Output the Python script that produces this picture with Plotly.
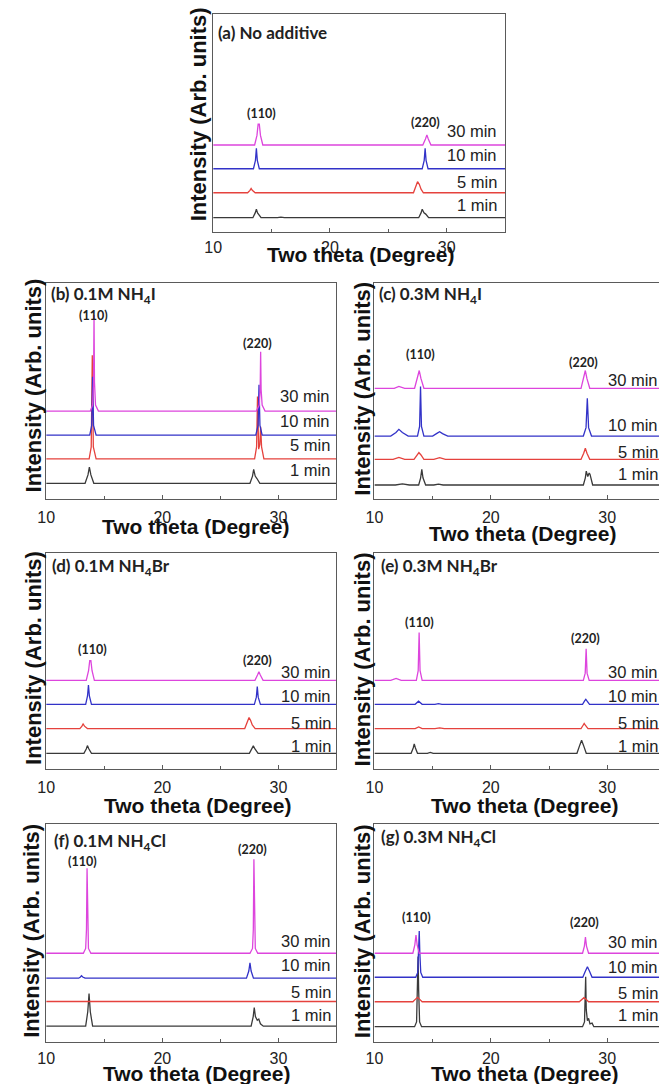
import plotly.graph_objects as go

W, H = 659, 1084

TIMES = ["1 min", "5 min", "10 min", "30 min"]
COLORS = ["#3a3a3a", "#e5423d", "#3232c8", "#dd45dd"]

# ---- panel (a) No additive ----
A1_X = [10, 11.2, 11.5, 11.8, 13.4, 13.6, 13.7, 13.8, 14.1, 15.5, 15.8, 16.1, 27.6, 27.8, 27.9, 28.05, 28.2, 28.45, 35]
A1_Y = [0, 0, 0.03, 0, 0, 0.2, 0.35, 0.2, 0, 0, 0.02, 0, 0, 0.2, 0.35, 0.2, 0.15, 0, 0]
A5_X = [10, 12.95, 13.15, 13.25, 13.35, 13.6, 27.15, 27.38, 27.5, 27.65, 27.8, 28.0, 35]
A5_Y = [0, 0, 0.1, 0.18, 0.1, 0, 0, 0.3, 0.46, 0.35, 0.15, 0, 0]
A10_X = [10, 13.45, 13.62, 13.7, 13.78, 13.95, 27.9, 28.07, 28.15, 28.23, 28.4, 35]
A10_Y = [0, 0, 0.35, 0.85, 0.35, 0, 0, 0.35, 0.85, 0.35, 0, 0]
A30_X = [10, 13.55, 13.75, 13.85, 13.95, 14.05, 14.25, 27.95, 28.18, 28.3, 28.42, 28.65, 35]
A30_Y = [0, 0, 0.4, 0.87, 0.87, 0.4, 0, 0, 0.25, 0.42, 0.25, 0, 0]

# ---- panel (b) 0.1M NH4I ----
B1_X = [10, 13.35, 13.6, 13.72, 13.85, 14.1, 27.55, 27.77, 27.87, 28.0, 28.15, 28.4, 35]
B1_Y = [0, 0, 0.35, 0.67, 0.35, 0, 0, 0.3, 0.58, 0.3, 0.2, 0, 0]
B5_X = [10, 13.7, 13.88, 13.97, 14.06, 14.3, 27.95, 28.12, 28.2, 28.3, 28.4, 28.47, 28.55, 28.75, 35]
B5_Y = [0, 0, 0.5, 4.32, 0.5, 0, 0, 0.5, 2.6, 0.4, 0.6, 1.33, 0.5, 0, 0]
B10_X = [10, 13.75, 13.92, 14.0, 14.08, 14.3, 28.05, 28.25, 28.33, 28.41, 28.6, 35]
B10_Y = [0, 0, 0.4, 2.43, 0.4, 0, 0, 0.4, 2.1, 0.4, 0, 0]
B30_X = [10, 13.8, 14.0, 14.08, 14.12, 14.16, 14.25, 14.5, 28.1, 28.35, 28.43, 28.47, 28.51, 28.6, 28.85, 35]
B30_Y = [0, 0, 0.25, 1.2, 4.0, 1.2, 0.25, 0, 0, 0.25, 0.9, 2.47, 0.9, 0.25, 0, 0]

# ---- panel (c) 0.3M NH4I ----
C1_X = [10, 11.8, 12.4, 13.0, 13.8, 13.97, 14.07, 14.17, 14.4, 15.1, 15.5, 15.9, 27.95, 28.12, 28.2, 28.33, 28.45, 28.52, 28.75, 35]
C1_Y = [0, 0, 0.05, 0, 0, 0.3, 0.65, 0.3, 0, 0, 0.04, 0, 0, 0.3, 0.58, 0.35, 0.5, 0.45, 0, 0]
C5_X = [10, 11.6, 12.1, 12.6, 13.4, 13.65, 13.82, 14.0, 14.25, 15.1, 15.6, 16.1, 27.75, 27.98, 28.12, 28.26, 28.5, 35]
C5_Y = [0, 0, 0.08, 0, 0, 0.18, 0.28, 0.18, 0, 0, 0.07, 0, 0, 0.25, 0.46, 0.25, 0, 0]
C10_X = [10, 11.4, 11.85, 12.1, 12.4, 12.9, 13.7, 13.88, 13.96, 14.04, 14.25, 15.0, 15.4, 15.6, 15.85, 16.3, 27.95, 28.18, 28.29, 28.4, 28.65, 35]
C10_Y = [0, 0, 0.15, 0.28, 0.15, 0, 0, 0.4, 2.06, 0.4, 0, 0, 0.12, 0.18, 0.1, 0, 0, 0.35, 1.57, 0.35, 0, 0]
C30_X = [10, 11.7, 12.1, 12.6, 13.45, 13.7, 13.85, 14.0, 14.25, 27.75, 27.98, 28.12, 28.26, 28.5, 35]
C30_Y = [0, 0, 0.08, 0, 0, 0.4, 0.74, 0.4, 0, 0, 0.4, 0.74, 0.4, 0, 0]

# ---- panel (d) 0.1M NH4Br ----
D1_X = [10, 11.2, 11.5, 11.8, 13.25, 13.45, 13.55, 13.68, 13.9, 27.5, 27.72, 27.84, 27.98, 28.25, 35]
D1_Y = [0, 0, 0.03, 0, 0, 0.18, 0.32, 0.18, 0, 0, 0.18, 0.31, 0.18, 0, 0]
D5_X = [10, 12.9, 13.08, 13.18, 13.3, 13.55, 27.1, 27.35, 27.47, 27.6, 27.75, 28.0, 35]
D5_Y = [0, 0, 0.1, 0.19, 0.1, 0, 0, 0.3, 0.46, 0.35, 0.15, 0, 0]
D10_X = [10, 13.4, 13.56, 13.64, 13.72, 13.9, 27.93, 28.1, 28.18, 28.26, 28.45, 35]
D10_Y = [0, 0, 0.35, 0.8, 0.35, 0, 0, 0.3, 0.74, 0.3, 0, 0]
D30_X = [10, 13.45, 13.65, 13.75, 13.85, 13.95, 14.15, 27.98, 28.2, 28.32, 28.44, 28.68, 35]
D30_Y = [0, 0, 0.4, 0.82, 0.82, 0.4, 0, 0, 0.22, 0.36, 0.22, 0, 0]

# ---- panel (e) 0.3M NH4Br ----
E1_X = [10, 11.2, 11.6, 12.0, 13.15, 13.33, 13.42, 13.52, 13.7, 14.55, 14.8, 15.05, 27.4, 27.65, 27.8, 27.95, 28.2, 35]
E1_Y = [0, 0, 0.02, 0, 0, 0.22, 0.39, 0.22, 0, 0, 0.04, 0, 0, 0.35, 0.54, 0.35, 0, 0]
E5_X = [10, 11.5, 12.0, 12.5, 13.5, 13.8, 14.1, 15.2, 15.6, 16.0, 27.75, 27.93, 28.02, 28.12, 28.35, 35]
E5_Y = [0, 0, 0.03, 0, 0, 0.07, 0, 0, 0.03, 0, 0, 0.14, 0.21, 0.14, 0, 0]
E10_X = [10, 13.5, 13.79, 14.1, 15.2, 15.5, 15.8, 27.88, 28.06, 28.16, 28.26, 28.48, 35]
E10_Y = [0, 0, 0.13, 0, 0, 0.03, 0, 0, 0.14, 0.21, 0.14, 0, 0]
E30_X = [10, 11.4, 11.86, 12.3, 13.6, 13.76, 13.84, 13.92, 14.1, 15.3, 15.6, 15.9, 27.95, 28.11, 28.19, 28.27, 28.45, 35]
E30_Y = [0, 0, 0.08, 0, 0, 0.4, 1.99, 0.4, 0, 0, 0.03, 0, 0, 0.3, 1.32, 0.3, 0, 0]

# ---- panel (f) 0.1M NH4Cl ----
F1_X = [10, 13.4, 13.58, 13.69, 13.8, 14.0, 27.65, 27.83, 27.92, 28.02, 28.18, 28.31, 28.45, 28.7, 35]
F1_Y = [0, 0, 0.6, 1.36, 0.6, 0, 0, 0.4, 0.78, 0.4, 0.25, 0.3, 0.1, 0, 0]
F5_X = [10, 13.4, 13.7, 14.0, 27.8, 28.1, 28.4, 35]
F5_Y = [0, 0, 0.03, 0, 0, 0.03, 0, 0]
F10_X = [10, 12.8, 12.95, 13.04, 13.15, 13.35, 27.25, 27.45, 27.55, 27.65, 27.85, 35]
F10_Y = [0, 0, 0.05, 0.1, 0.05, 0, 0, 0.3, 0.64, 0.3, 0, 0]
F30_X = [10, 13.2, 13.4, 13.47, 13.52, 13.57, 13.64, 13.85, 27.55, 27.77, 27.84, 27.89, 27.94, 28.01, 28.22, 35]
F30_Y = [0, 0, 0.2, 1.0, 3.54, 1.0, 0.2, 0, 0, 0.2, 1.0, 3.92, 1.0, 0.2, 0, 0]

# ---- panel (g) 0.3M NH4Cl ----
G1_X = [10, 13.45, 13.62, 13.7, 13.75, 13.8, 13.88, 14.05, 27.88, 28.05, 28.11, 28.15, 28.2, 28.3, 28.4, 28.52, 28.7, 28.85, 35]
G1_Y = [0, 0, 0.2, 1.5, 2.92, 1.5, 0.2, 0, 0, 0.2, 1.0, 2.08, 0.7, 0.25, 0.35, 0.12, 0.15, 0, 0]
G5_X = [10, 13.3, 13.55, 13.7, 13.85, 14.1, 27.6, 27.85, 28.0, 28.15, 28.4, 35]
G5_Y = [0, 0, 0.12, 0.18, 0.12, 0, 0, 0.11, 0.17, 0.11, 0, 0]
G10_X = [10, 13.55, 13.72, 13.8, 13.85, 13.9, 13.98, 14.15, 27.9, 28.12, 28.3, 28.48, 28.7, 35]
G10_Y = [0, 0, 0.2, 1.0, 1.93, 1.0, 0.2, 0, 0, 0.25, 0.44, 0.25, 0, 0]
G30_X = [10, 13.3, 13.47, 13.57, 13.67, 13.85, 27.88, 28.04, 28.13, 28.22, 28.4, 35]
G30_Y = [0, 0, 0.35, 0.76, 0.35, 0, 0, 0.3, 0.67, 0.3, 0, 0]

TITLES = ["(a) No additive", "(b) 0.1M NH<sub>4</sub>I", "(c) 0.3M NH<sub>4</sub>I",
          "(d) 0.1M NH<sub>4</sub>Br", "(e) 0.3M NH<sub>4</sub>Br",
          "(f) 0.1M NH<sub>4</sub>Cl", "(g) 0.3M NH<sub>4</sub>Cl"]
PEAK_LABELS = ["(110)", "(220)"]
X_TICKS = [10, 20, 30]
X_TITLE = "Two theta (Degree)"
Y_TITLE = "Intensity (Arb. units)"

SERIES = [
    [(A1_X, A1_Y), (A5_X, A5_Y), (A10_X, A10_Y), (A30_X, A30_Y)],
    [(B1_X, B1_Y), (B5_X, B5_Y), (B10_X, B10_Y), (B30_X, B30_Y)],
    [(C1_X, C1_Y), (C5_X, C5_Y), (C10_X, C10_Y), (C30_X, C30_Y)],
    [(D1_X, D1_Y), (D5_X, D5_Y), (D10_X, D10_Y), (D30_X, D30_Y)],
    [(E1_X, E1_Y), (E5_X, E5_Y), (E10_X, E10_Y), (E30_X, E30_Y)],
    [(F1_X, F1_Y), (F5_X, F5_Y), (F10_X, F10_Y), (F30_X, F30_Y)],
    [(G1_X, G1_Y), (G5_X, G5_Y), (G10_X, G10_Y), (G30_X, G30_Y)],
]

# ---------------- layout constants (pixels) ----------------
BOX = [
    (207, 503, 14, 232),
    (37.7, 332, 283.3, 499.2), (370.5, 659, 283.3, 499.2),
    (37.7, 332, 552.7, 769.3), (370.5, 659, 552.7, 769.3),
    (37.7, 332, 824, 1041.5), (370.5, 659, 824, 1041.5),
]
XMAX = [35, 35, 34.45, 35, 34.45, 35, 34.45]
BASE1 = [217.7, 483.3, 485, 753.3, 753.3, 1026.2, 1026.7]
UNIT = 24.0
OFFSETS = [[0, 1.04, 2.04, 3.03], [0, 1.02, 2.01, 3.01], [0, 1.07, 2.04, 4.03],
           [0, 1.03, 2.04, 3.04], [0, 1.03, 2.04, 3.04], [0, 1.03, 2.0, 3.04],
           [0, 1.04, 2.06, 3.06]]
TIME_LBL_X = [497, 327, 660, 328, 660, 328, 660]
TIME_LBL_Y = [[205, 181.7, 155.3, 131], [470, 445, 420.7, 396], [474, 451.7, 425, 380],
              [746, 722.7, 696, 671.7], [746, 722.7, 696, 672.3], [1015, 991.7, 965, 941],
              [1015, 992.7, 966.7, 941.7]]
TITLE_POS = [(209.5, 32.3), (40.5, 295), (373, 295), (41.5, 566.7), (375.5, 566.7),
             (44, 841.7), (375.5, 838.3)]
PEAK_POS = [[(256, 113.3), (422.3, 122.3)], [(86, 315), (252.3, 343.3)],
            [(417.3, 354), (582.3, 362.3)], [(84.3, 649.3), (251.7, 660.7)],
            [(416, 622.7), (584, 638.3)], [(75, 861.7), (246.7, 849)],
            [(412.7, 917.3), (583.3, 922.7)]]
XTITLE_POS = [(356.7, 255), (189, 526.7), (520.8, 533.3), (190.8, 805), (523, 805),
              (190, 1073.3), (522.5, 1073.3)]
YTITLE_POS = [(191.7, 114.2), (25, 385.8), (358.3, 388.3), (25, 658.3), (358.3, 659),
              (23.3, 930.8), (358.3, 930.8)]
TICK_STANDOFF = [1, 4, 4, 3, 3, 2, 2]

AX_COLOR = "#5a5a5a"
SANS = "Liberation Sans, Arial, sans-serif"
LBL = "Lato, Open Sans, sans-serif"


def px(x):
    return x / W


def py(y):
    return 1 - y / H


fig = go.Figure()
annotations = []
layout = {}

for p in range(7):
    n = "" if p == 0 else str(p + 1)
    xa, ya = "xaxis" + n, "yaxis" + n
    xr, yr = "x" + n, "y" + n
    L, R, T, B = BOX[p]
    right_col = p in (2, 4, 6)
    layout[xa] = dict(
        domain=[px(L), min(px(R), 1.0)], anchor=yr, range=[10, XMAX[p]],
        showline=True, linecolor=AX_COLOR, linewidth=1, mirror=True,
        showgrid=False, zeroline=False,
        tickvals=X_TICKS, ticks="inside", ticklen=4, tickcolor=AX_COLOR,
        minor=dict(dtick=5, tick0=10, ticks="inside", ticklen=3, tickcolor=AX_COLOR),
        ticklabelstandoff=TICK_STANDOFF[p],
        tickfont=dict(family=SANS, size=16, color="#222"),
    )
    y0 = -(B - BASE1[p]) / UNIT
    y1 = (BASE1[p] - T) / UNIT
    layout[ya] = dict(
        domain=[py(B), py(T)], anchor=xr, range=[y0, y1],
        showline=True, linecolor=AX_COLOR, linewidth=1, mirror=not right_col,
        showgrid=False, zeroline=False, showticklabels=False, ticks="",
    )
    for i, (xs, ys) in enumerate(SERIES[p]):
        off = OFFSETS[p][i]
        fig.add_trace(go.Scatter(
            x=xs, y=[v + off for v in ys], mode="lines", xaxis=xr, yaxis=yr,
            line=dict(color=COLORS[i], width=1.3), showlegend=False, hoverinfo="skip",
        ))
        annotations.append(dict(
            text=TIMES[i], xref="paper", yref="paper",
            x=px(TIME_LBL_X[p]), y=py(TIME_LBL_Y[p][i]), xanchor="right", yanchor="middle",
            showarrow=False, font=dict(family=SANS, size=16.5, color="#222"),
        ))
    tx, ty = TITLE_POS[p]
    annotations.append(dict(
        text="<b>" + TITLES[p] + "</b>", xref="paper", yref="paper",
        x=px(tx), y=py(ty), xanchor="left", yanchor="middle", showarrow=False,
        font=dict(family=LBL, size=17, color="#222"),
    ))
    for k, (lx, ly) in enumerate(PEAK_POS[p]):
        annotations.append(dict(
            text="<b>" + PEAK_LABELS[k] + "</b>", xref="paper", yref="paper",
            x=px(lx), y=py(ly), xanchor="center", yanchor="middle", showarrow=False,
            font=dict(family=LBL, size=12.5, color="#222"),
        ))
    xx, xy = XTITLE_POS[p]
    annotations.append(dict(
        text="<b>" + X_TITLE + "</b>", xref="paper", yref="paper",
        x=px(xx), y=py(xy), xanchor="center", yanchor="middle", showarrow=False,
        font=dict(family=SANS, size=21, color="#111"),
    ))
    yx, yy = YTITLE_POS[p]
    annotations.append(dict(
        text="<b>" + Y_TITLE + "</b>", xref="paper", yref="paper", textangle=-90,
        x=px(yx), y=py(yy), xanchor="center", yanchor="middle", showarrow=False,
        font=dict(family=SANS, size=22, color="#111"),
    ))

fig.update_layout(
    width=W, height=H, margin=dict(l=0, r=0, t=0, b=0),
    paper_bgcolor="white", plot_bgcolor="white",
    annotations=annotations, **layout,
)
fig.write_html(
    "out.html",
    config={"displayModeBar": False, "staticPlot": True},
    post_script="document.body.style.margin='0';document.body.style.overflow='hidden';"
                "document.documentElement.style.overflow='hidden';",
)
